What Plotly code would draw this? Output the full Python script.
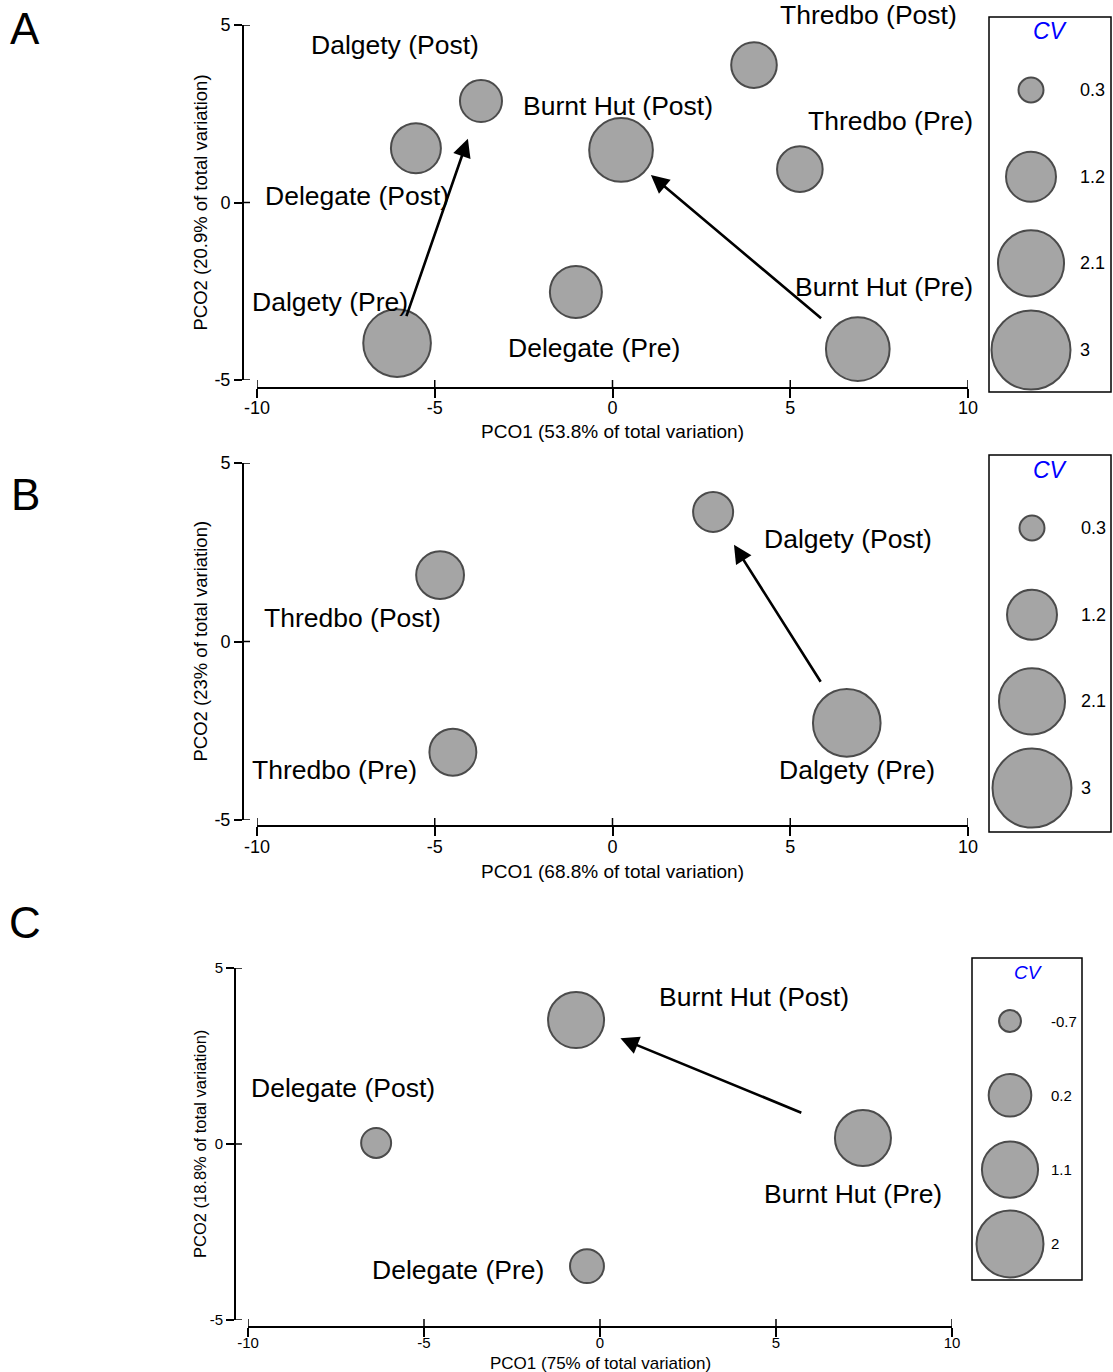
import numpy as np
import plotly.graph_objects as go

W, H = 1113, 1372
FONT = "Arial, 'Liberation Sans', sans-serif"

# ---------------- data ----------------
# Panel A
sites_a = ["Dalgety (Pre)", "Dalgety (Post)", "Delegate (Pre)", "Delegate (Post)",
           "Burnt Hut (Pre)", "Burnt Hut (Post)", "Thredbo (Pre)", "Thredbo (Post)"]
pco1_a = [-6.06, -3.70, -1.03, -5.53, 6.90, 0.24, 5.27, 3.98]
pco2_a = [-3.96, 2.86, -2.52, 1.53, -4.13, 1.48, 0.94, 3.87]
cv_a = [2.20, 0.85, 1.30, 1.20, 1.95, 1.95, 1.00, 1.00]

# Panel B
sites_b = ["Dalgety (Pre)", "Dalgety (Post)", "Thredbo (Pre)", "Thredbo (Post)"]
pco1_b = [6.59, 2.83, -4.49, -4.85]
pco2_b = [-2.28, 3.63, -3.10, 1.86]
cv_b = [2.20, 0.77, 1.06, 1.10]

# Panel C
sites_c = ["Delegate (Pre)", "Delegate (Post)", "Burnt Hut (Pre)", "Burnt Hut (Post)"]
pco1_c = [-0.37, -6.36, 7.47, -0.68]
pco2_c = [-3.47, 0.03, 0.17, 3.52]
cv_c = [-0.25, -0.42, 1.09, 1.09]

legend_cv_ab = [0.3, 1.2, 2.1, 3]
legend_cv_c = [-0.7, 0.2, 1.1, 2]

x_ticks = [-10, -5, 0, 5, 10]
y_ticks = [-5, 0, 5]
x_range = [-10, 10]
y_range = [-5, 5]

xtitle_a = "PCO1 (53.8% of total variation)"
ytitle_a = "PCO2 (20.9% of total variation)"
xtitle_b = "PCO1 (68.8% of total variation)"
ytitle_b = "PCO2 (23% of total variation)"
xtitle_c = "PCO1 (75% of total variation)"
ytitle_c = "PCO2 (18.8% of total variation)"


# bubble diameter scales (area proportional to CV)
def size_ab(cv):
    return 45.6 * np.sqrt(np.asarray(cv, dtype=float))


def size_c(cv):
    return np.sqrt(1483.0 * (np.asarray(cv, dtype=float) + 1.026))


def px(x):
    return x / W


def py(y):
    return 1 - y / H


# ---------------- layout of the three panels ----------------
panels = [
    dict(letter="A", letter_y=28,
         sites=sites_a, x=pco1_a, y=pco2_a, cv=cv_a, size=size_ab,
         x0=257, x1=968, ytop=25, ybot=380, xline=388, yline=243,
         tickfont=18, xstand=-6, titlefont=19, ytitlefont=18.5,
         xtitle=xtitle_a, ytitle=ytitle_a, xtitle_y=432, ytitle_x=200,
         labels={"Dalgety (Pre)": (-7.95, -2.80), "Dalgety (Post)": (-6.12, 4.44),
                 "Delegate (Pre)": (-0.52, -4.10), "Delegate (Post)": (-7.19, 0.18),
                 "Burnt Hut (Pre)": (7.64, -2.38), "Burnt Hut (Post)": (0.15, 2.72),
                 "Thredbo (Pre)": (7.83, 2.30), "Thredbo (Post)": (7.19, 5.28)},
         arrows=[("Dalgety (Pre)", "Dalgety (Post)", 27, 40),
                 ("Burnt Hut (Pre)", "Burnt Hut (Post)", 46, 39)],
         leg_vals=legend_cv_ab, leg_box=(989, 1111, 17, 392), leg_first=90, leg_step=86.7,
         leg_cx=1031, leg_tx=1078, leg_font=18, cv_font=23, cv_pos=(1050, 31)),
    dict(letter="B", letter_y=495,
         sites=sites_b, x=pco1_b, y=pco2_b, cv=cv_b, size=size_ab,
         x0=257, x1=968, ytop=463, ybot=820, xline=826, yline=243,
         tickfont=18, xstand=-5, titlefont=19, ytitlefont=18.5,
         xtitle=xtitle_b, ytitle=ytitle_b, xtitle_y=871, ytitle_x=200,
         labels={"Dalgety (Pre)": (6.88, -3.60), "Dalgety (Post)": (6.62, 2.87),
                 "Thredbo (Pre)": (-7.81, -3.60), "Thredbo (Post)": (-7.30, 0.66)},
         arrows=[("Dalgety (Pre)", "Dalgety (Post)", 47, 39)],
         leg_vals=legend_cv_ab, leg_box=(989, 1111, 455, 832), leg_first=528, leg_step=86.7,
         leg_cx=1032, leg_tx=1079, leg_font=18, cv_font=23, cv_pos=(1050, 470)),
    dict(letter="C", letter_y=922,
         sites=sites_c, x=pco1_c, y=pco2_c, cv=cv_c, size=size_c,
         x0=248, x1=952, ytop=968, ybot=1320, xline=1327, yline=235,
         tickfont=15, xstand=-7, titlefont=17, ytitlefont=16.5,
         xtitle=xtitle_c, ytitle=ytitle_c, xtitle_y=1363, ytitle_x=200,
         labels={"Delegate (Pre)": (-4.03, -3.58), "Delegate (Post)": (-7.30, 1.59),
                 "Burnt Hut (Pre)": (7.19, -1.42), "Burnt Hut (Post)": (4.38, 4.18)},
         arrows=[("Burnt Hut (Pre)", "Burnt Hut (Post)", 65, 48)],
         leg_vals=legend_cv_c, leg_box=(972, 1082, 958, 1280), leg_first=1021, leg_step=74.3,
         leg_cx=1010, leg_tx=1049, leg_font=15, cv_font=19, cv_pos=(1028, 973)),
]

fig = go.Figure()
layout = dict(width=W, height=H,
              margin=dict(l=0, r=0, t=0, b=0, pad=0, autoexpand=False),
              paper_bgcolor="white", plot_bgcolor="rgba(0,0,0,0)",
              showlegend=False, font=dict(family=FONT, color="black"))
shapes, annotations = [], []

for i, p in enumerate(panels, start=1):
    xa = "x" if i == 1 else f"x{i}"
    ya = "y" if i == 1 else f"y{i}"
    xkey = "xaxis" if i == 1 else f"xaxis{i}"
    ykey = "yaxis" if i == 1 else f"yaxis{i}"

    layout[xkey] = dict(domain=[px(p["x0"]), px(p["x1"])], range=x_range,
                        anchor="free", position=py(p["xline"]), automargin=False,
                        showline=True, linecolor="black", linewidth=2,
                        ticks="outside", ticklen=9, tickwidth=1.5, tickcolor="black",
                        ticklabelstandoff=p["xstand"],
                        tickvals=x_ticks, ticktext=[str(v) for v in x_ticks],
                        tickfont=dict(size=p["tickfont"], family=FONT, color="black"),
                        showgrid=False, zeroline=False, fixedrange=True)
    layout[ykey] = dict(domain=[py(p["ybot"]), py(p["ytop"])], range=y_range,
                        anchor="free", position=px(p["yline"]), automargin=False,
                        showline=True, linecolor="black", linewidth=2,
                        ticks="outside", ticklen=8, tickwidth=1.5, tickcolor="black",
                        tickvals=y_ticks, ticktext=[str(v) for v in y_ticks],
                        tickfont=dict(size=p["tickfont"], family=FONT, color="black"),
                        showgrid=False, zeroline=False, fixedrange=True)

    # data-space -> paper-space helpers for this panel (labels may sit outside the range)
    def to_paper_x(v, p=p):
        frac = (v - x_range[0]) / (x_range[1] - x_range[0])
        return px(p["x0"] + frac * (p["x1"] - p["x0"]))

    def to_paper_y(v, p=p):
        frac = (y_range[1] - v) / (y_range[1] - y_range[0])
        return py(p["ytop"] + frac * (p["ybot"] - p["ytop"]))

    # inner half of the crossing tick marks
    for t in x_ticks:
        shapes.append(dict(type="line", xref=xa, yref="paper", x0=t, x1=t,
                           y0=py(p["xline"]), y1=py(p["xline"] - 8),
                           line=dict(color="black", width=1.5)))
    for t in y_ticks:
        shapes.append(dict(type="line", xref="paper", yref=ya, y0=t, y1=t,
                           x0=px(p["yline"]), x1=px(p["yline"] + 7),
                           line=dict(color="black", width=1.5)))

    # arrows from Pre to Post, drawn beneath the bubbles
    pos = {s: (xv, yv) for s, xv, yv in zip(p["sites"], p["x"], p["y"])}
    for pre, post, start_off, end_off in p["arrows"]:
        annotations.append(dict(x=pos[post][0], y=pos[post][1], xref=xa, yref=ya,
                                ax=pos[pre][0], ay=pos[pre][1], axref=xa, ayref=ya,
                                text="", showarrow=True, arrowhead=2, arrowsize=1.4,
                                arrowwidth=2.6, arrowcolor="black",
                                standoff=end_off, startstandoff=start_off))

    # bubbles
    fig.add_trace(go.Scatter(x=p["x"], y=p["y"], mode="markers", xaxis=xa, yaxis=ya,
                             text=p["sites"], hoverinfo="text", cliponaxis=False,
                             marker=dict(size=p["size"](p["cv"]), sizemode="diameter",
                                         color="#808080",
                                         line=dict(color="black", width=2))))

    # site labels
    for s in p["sites"]:
        lx, ly = p["labels"][s]
        annotations.append(dict(x=to_paper_x(lx), y=to_paper_y(ly), xref="paper",
                                yref="paper", text=s, showarrow=False,
                                font=dict(size=26.5, family=FONT, color="black"),
                                xanchor="center", yanchor="middle"))

    # axis titles
    annotations.append(dict(x=px((p["x0"] + p["x1"]) / 2), y=py(p["xtitle_y"]),
                            xref="paper", yref="paper", text=p["xtitle"], showarrow=False,
                            font=dict(size=p["titlefont"], family=FONT, color="black"),
                            xanchor="center", yanchor="middle"))
    annotations.append(dict(x=px(p["ytitle_x"]), y=py((p["ytop"] + p["ybot"]) / 2),
                            xref="paper", yref="paper", text=p["ytitle"], showarrow=False,
                            textangle=-90,
                            font=dict(size=p["ytitlefont"], family=FONT, color="black"),
                            xanchor="center", yanchor="middle"))

    # panel letter
    annotations.append(dict(x=px(25), y=py(p["letter_y"]), xref="paper", yref="paper",
                            text=p["letter"], showarrow=False,
                            font=dict(size=44, family=FONT, color="black"),
                            xanchor="center", yanchor="middle"))

    # CV size key in its own box
    li = i + 3
    lxa, lya = f"x{li}", f"y{li}"
    bx0, bx1, by0, by1 = p["leg_box"]
    top_idx = (by0 - p["leg_first"]) / p["leg_step"]
    bot_idx = (by1 - p["leg_first"]) / p["leg_step"]
    layout[f"xaxis{li}"] = dict(domain=[px(bx0), px(bx1)], range=[bx0, bx1],
                                anchor=lya, visible=False, fixedrange=True, automargin=False)
    layout[f"yaxis{li}"] = dict(domain=[py(by1), py(by0)], range=[bot_idx, top_idx],
                                anchor=lxa, visible=False, fixedrange=True, automargin=False)
    shapes.append(dict(type="rect", xref="paper", yref="paper",
                       x0=px(bx0), x1=px(bx1), y0=py(by1), y1=py(by0),
                       line=dict(color="black", width=1.5), fillcolor="rgba(0,0,0,0)"))
    idx = list(range(len(p["leg_vals"])))
    fig.add_trace(go.Scatter(x=[p["leg_cx"]] * len(idx), y=idx, mode="markers",
                             xaxis=lxa, yaxis=lya, cliponaxis=False, hoverinfo="skip",
                             marker=dict(size=p["size"](p["leg_vals"]), sizemode="diameter",
                                         color="#808080",
                                         line=dict(color="black", width=2))))
    for k, v in zip(idx, p["leg_vals"]):
        annotations.append(dict(x=p["leg_tx"], y=k, xref=lxa, yref=lya, text=f"{v:g}",
                                showarrow=False, xanchor="left", yanchor="middle",
                                font=dict(size=p["leg_font"], family=FONT, color="black")))
    annotations.append(dict(x=px(p["cv_pos"][0]), y=py(p["cv_pos"][1]), xref="paper",
                            yref="paper", text="<i>CV</i>", showarrow=False,
                            xanchor="center", yanchor="middle",
                            font=dict(size=p["cv_font"], family=FONT, color="#0000FF")))

layout["shapes"] = shapes
layout["annotations"] = annotations
fig.update_layout(**layout)

fig.write_html("out.html")
